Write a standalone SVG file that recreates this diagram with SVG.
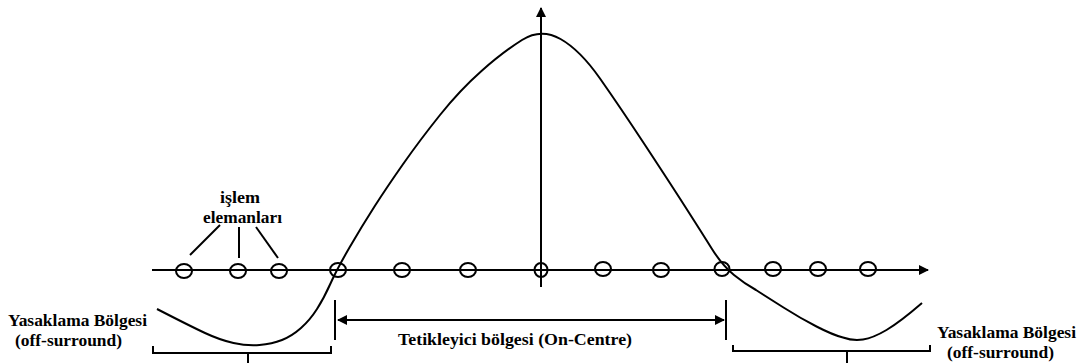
<svg xmlns="http://www.w3.org/2000/svg" width="1085" height="363" viewBox="0 0 1085 363">
<defs>
<style>
.ln{stroke:#000;stroke-width:2;fill:none}
.nd{stroke:#000;stroke-width:2;fill:none}
.t{font-family:"Liberation Serif","DejaVu Serif",serif;font-size:16px;font-weight:bold;fill:#000}
</style>
<marker id="ah" viewBox="0 0 10 10" refX="9" refY="5" markerWidth="5" markerHeight="5" orient="auto-start-reverse" markerUnits="strokeWidth">
<path d="M0,0 L10,5 L0,10 z" fill="#000"/>
</marker>
</defs>
<rect width="1085" height="363" fill="#fff"/>
<g id="axes">
<line class="ln" x1="152" y1="270" x2="928" y2="270" marker-end="url(#ah)"/>
<line class="ln" x1="541" y1="287" x2="541" y2="8" marker-end="url(#ah)"/>
</g>
<g id="curve">
<path class="ln" d="M157,309 Q190,326 205,333 Q220,340 233.5,343 Q247,346 259.5,345 Q272,344 282,340 Q292,336 301,328 Q310,320 317,309 Q324,298 330.5,283.5 Q337,269 349.5,247.5 Q362,226 374.5,206.5 Q387,187 403.5,163.5 Q420,140 440,115 Q460,90 481.5,71 Q503,52 522,40 Q541,28 560.5,39 Q580,50 600,78.5 Q620,107 645,145 Q670,183 686,208 Q702,233 712,249 Q722,265 734,275 Q745,284 756,290 Q767,297 783.5,307.5 Q800,318 816.5,326.5 Q833,335 843,337.5 Q853,341 863,339.5 Q873,338 886.5,330 Q900,322 922,303"/>
</g>
<g id="nodes">
<ellipse id="n1" class="nd" cx="184" cy="271" rx="8" ry="7"/>
<ellipse id="n2" class="nd" cx="238" cy="271" rx="8" ry="7"/>
<ellipse id="n3" class="nd" cx="279" cy="271" rx="8" ry="7"/>
<ellipse id="n4" class="nd" cx="338" cy="270" rx="8" ry="7"/>
<ellipse id="n5" class="nd" cx="402" cy="270" rx="8" ry="7"/>
<ellipse id="n6" class="nd" cx="468" cy="270" rx="8" ry="7"/>
<ellipse id="n7" class="nd" cx="541" cy="270" rx="6.5" ry="7"/>
<ellipse id="n8" class="nd" cx="603" cy="269" rx="8" ry="7"/>
<ellipse id="n9" class="nd" cx="661" cy="270" rx="8" ry="7"/>
<ellipse id="n10" class="nd" cx="722" cy="269" rx="7.5" ry="7"/>
<ellipse id="n11" class="nd" cx="773" cy="269" rx="8" ry="7"/>
<ellipse id="n12" class="nd" cx="818" cy="269" rx="8" ry="7"/>
<ellipse id="n13" class="nd" cx="868" cy="269" rx="8" ry="7"/>
</g>
<g id="labels">
<text class="t" x="220" y="203" textLength="40" lengthAdjust="spacingAndGlyphs">işlem</text>
<text class="t" x="203" y="223" textLength="79" lengthAdjust="spacingAndGlyphs">elemanları</text>
<text class="t" x="8" y="326" textLength="139" lengthAdjust="spacingAndGlyphs">Yasaklama Bölgesi</text>
<text class="t" x="15" y="346" textLength="107" lengthAdjust="spacingAndGlyphs">(off-surround)</text>
<text class="t" x="937" y="338" textLength="139" lengthAdjust="spacingAndGlyphs">Yasaklama Bölgesi</text>
<text class="t" x="947" y="358" textLength="107" lengthAdjust="spacingAndGlyphs">(off-surround)</text>
<text class="t" x="398" y="345" textLength="234" lengthAdjust="spacingAndGlyphs">Tetikleyici bölgesi (On-Centre)</text>
</g>
<g id="connectors">
<line class="ln" x1="220" y1="225" x2="190" y2="255"/>
<line class="ln" x1="239" y1="227" x2="239" y2="258"/>
<line class="ln" x1="256" y1="227" x2="278" y2="258"/>
<line class="ln" x1="335" y1="300" x2="335" y2="340"/>
<line class="ln" x1="726" y1="300" x2="726" y2="340"/>
<line class="ln" x1="338" y1="320" x2="724" y2="320" marker-start="url(#ah)" marker-end="url(#ah)"/>
<path class="ln" d="M153,346 V353 H331 V346 M248,353 V363"/>
<path class="ln" d="M733,345 V351 H930 V345 M847,351 V363"/>
</g>
</svg>
